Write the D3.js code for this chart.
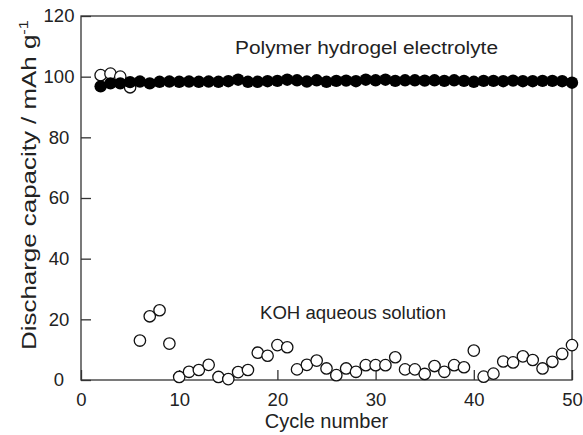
<!DOCTYPE html>
<head>
	<meta charset="utf-8">
	<title>Discharge capacity vs cycle</title>
</head>
<style>
body { margin: 0; background: #fff; }
svg text { font-family: "Liberation Sans", Arial, sans-serif; fill: #222; }
.frame { fill: none; stroke: #333; stroke-width: 1.3px; }
</style>
<svg id="svg" width="583" height="435"></svg>
<script src="https://cdn.jsdelivr.net/npm/d3@7"></script>
<script>

// cycle numbers 2..50
var cycles = [2,3,4,5,6,7,8,9,10,11,12,13,14,15,16,17,18,19,20,21,22,23,24,25,26,
              27,28,29,30,31,32,33,34,35,36,37,38,39,40,41,42,43,44,45,46,47,48,49,50];

// polymer hydrogel electrolyte (filled)
var gelCapacity = [96.8,97.8,97.8,98.2,98.4,97.8,98.3,98.4,98.3,98.4,98.3,98.4,98.3,98.5,99.0,98.3,
                   98.3,98.5,98.6,99.0,98.8,98.4,98.8,98.3,98.6,98.7,98.5,99.0,98.8,99.0,98.6,98.8,
                   98.8,98.7,98.8,98.6,98.8,98.6,98.3,98.6,98.6,98.5,98.7,98.5,98.5,98.6,98.6,98.5,98.0];

// KOH aqueous solution (open)
var kohCapacity = [100.5,101.0,100.0,96.5,13.0,21.0,23.0,12.0,1.0,2.7,3.3,5.0,1.0,0.3,2.6,3.3,
                   9.0,8.0,11.5,10.8,3.5,5.0,6.4,3.8,1.6,3.8,2.7,4.9,4.9,4.9,7.5,3.5,
                   3.5,2.0,4.6,2.7,4.9,4.2,9.7,1.1,2.1,6.1,5.8,7.8,6.6,3.8,6.0,8.6,11.5];

var xTicks = [0,10,20,30,40,50];
var yTicks = [0,20,40,60,80,100,120];

var svg = d3.select("svg");

var x = d3.scaleLinear().domain([0, 50]).range([81, 572]);
var y = d3.scaleLinear().domain([0, 120]).range([380, 16]);

// frame
svg.append("rect")
    .attr("class", "frame")
    .attr("x", x(0)).attr("y", y(120))
    .attr("width", x(50) - x(0)).attr("height", y(0) - y(120));

// axes with inward ticks
var xAxis = svg.append("g")
    .attr("transform", "translate(0," + y(0) + ")")
    .call(d3.axisBottom(x).tickValues(xTicks).tickSizeInner(-10).tickSizeOuter(0).tickPadding(13));

var yAxis = svg.append("g")
    .attr("transform", "translate(" + x(0) + ",0)")
    .call(d3.axisLeft(y).tickValues(yTicks).tickSizeInner(-10).tickSizeOuter(0).tickPadding(22));

[xAxis, yAxis].forEach(function (g) {
  g.select(".domain").remove();
  g.selectAll(".tick line").attr("stroke", "#333").attr("stroke-width", 1.3);
  g.selectAll(".tick text")
      .attr("font-family", "Liberation Sans, Arial, sans-serif")
      .attr("font-size", 18.5)
      .attr("fill", "#222");
});
// y tick labels are centred in the reference
yAxis.selectAll(".tick text").attr("text-anchor", "middle");

// data points
var koh = cycles.map(function (c, i) { return {c: c, v: kohCapacity[i]}; });
var gel = cycles.map(function (c, i) { return {c: c, v: gelCapacity[i]}; });

svg.append("g").selectAll("circle")
    .data(koh)
    .enter().append("circle")
      .attr("cx", function (d) { return x(d.c); })
      .attr("cy", function (d) { return y(d.v); })
      .attr("r", 5.7)
      .attr("fill", "#fff")
      .attr("stroke", "#111")
      .attr("stroke-width", 1.3);

svg.append("g").selectAll("circle")
    .data(gel)
    .enter().append("circle")
      .attr("cx", function (d) { return x(d.c); })
      .attr("cy", function (d) { return y(d.v); })
      .attr("r", 6.2)
      .attr("fill", "#000");

// annotations
svg.append("text")
    .attr("x", 235).attr("y", 54)
    .attr("font-size", 18)
    .attr("textLength", 263)
    .attr("lengthAdjust", "spacingAndGlyphs")
    .text("Polymer hydrogel electrolyte");

svg.append("text")
    .attr("x", 260).attr("y", 319)
    .attr("font-size", 18)
    .attr("textLength", 186)
    .attr("lengthAdjust", "spacingAndGlyphs")
    .text("KOH aqueous solution");

// axis titles
svg.append("text")
    .attr("x", (x(0) + x(50)) / 2).attr("y", 428)
    .attr("text-anchor", "middle")
    .attr("font-size", 20)
    .text("Cycle number");

var yt = svg.append("text")
    .attr("transform", "translate(36,185) rotate(-90)")
    .attr("text-anchor", "middle")
    .attr("font-size", 20.5)
    .attr("textLength", 330)
    .attr("lengthAdjust", "spacingAndGlyphs");
yt.append("tspan").text("Discharge capacity / mAh g");
yt.append("tspan").attr("dy", -8).attr("font-size", 13).text("-1");

</script>
